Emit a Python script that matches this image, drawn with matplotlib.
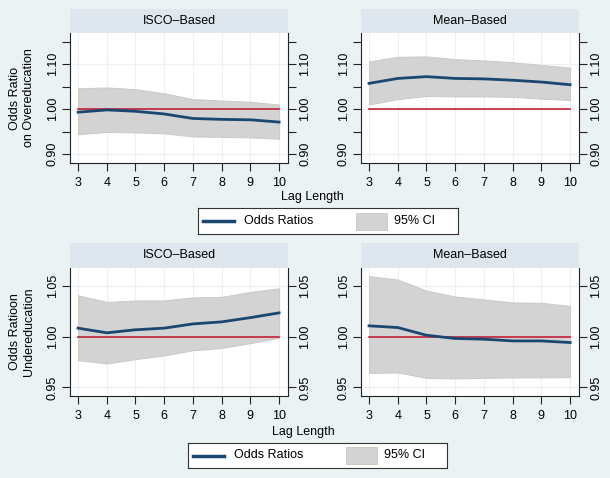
import numpy as np
import matplotlib
matplotlib.use('Agg')
import matplotlib.pyplot as plt
from matplotlib.lines import Line2D
from matplotlib.patches import Rectangle

plt.rcParams['font.family'] = ['Liberation Sans', 'DejaVu Sans']
plt.rcParams['font.size'] = 9

FIG_W, FIG_H = 610, 478
BG = '#EAF2F3'
STRIP = '#DEE7ED'
NAVY = '#1A476F'
RED = '#C41E3A'
CI_FILL = '#D3D3D3'

lags = [3, 4, 5, 6, 7, 8, 9, 10]

# overeducation
over_isco = [0.993, 0.998, 0.995, 0.989, 0.979, 0.977, 0.976, 0.971]
over_isco_hi = [1.046, 1.048, 1.044, 1.035, 1.022, 1.019, 1.016, 1.010]
over_isco_lo = [0.944, 0.949, 0.948, 0.946, 0.939, 0.938, 0.937, 0.934]

over_mean = [1.057, 1.068, 1.072, 1.068, 1.067, 1.064, 1.060, 1.054]
over_mean_hi = [1.106, 1.116, 1.117, 1.111, 1.108, 1.104, 1.098, 1.092]
over_mean_lo = [1.010, 1.022, 1.029, 1.028, 1.028, 1.027, 1.023, 1.020]

# undereducation
under_isco = [1.0086, 1.0040, 1.0070, 1.0086, 1.0128, 1.0148, 1.0190, 1.0237]
under_isco_hi = [1.0410, 1.0345, 1.0360, 1.0360, 1.0390, 1.0395, 1.0444, 1.0480]
under_isco_lo = [0.9770, 0.9737, 0.9780, 0.9816, 0.9868, 0.9890, 0.9938, 0.9990]

under_mean = [1.0109, 1.0092, 1.0016, 0.9984, 0.9977, 0.9960, 0.9960, 0.9944]
under_mean_hi = [1.0600, 1.0566, 1.0457, 1.0398, 1.0370, 1.0340, 1.0336, 1.0306]
under_mean_lo = [0.9645, 0.9648, 0.9595, 0.9589, 0.9595, 0.9599, 0.9600, 0.9602]

panel_titles = ['ISCO\u2013Based', 'Mean\u2013Based']


def px_rect(x0, y0, x1, y1):
    ''' pixel box (top-left origin) -> figure fraction rect '''
    return [x0 / FIG_W, 1 - y1 / FIG_H, (x1 - x0) / FIG_W, (y1 - y0) / FIG_H]


def draw_panel(fig, box, strip_top, title, y, hi, lo, ylim, yticks, ylabels, yminor):
    x0, y0, x1, y1 = box
    ax = fig.add_axes(px_rect(x0, y0, x1, y1))
    ax.set_facecolor('white')
    ax.fill_between(lags, lo, hi, facecolor=CI_FILL, edgecolor='#CDC9C3', lw=0.7, zorder=2)
    ax.plot([lags[0], lags[-1]], [1, 1], color=RED, lw=1.2, zorder=3)
    ax.plot(lags, y, color=NAVY, lw=2, zorder=4)

    ax.set_xlim(2.72, 10.31)
    ax.set_ylim(*ylim)
    ax.set_xticks(lags)
    ax.set_yticks(yticks)
    ax.set_yticklabels(ylabels)
    ax.set_yticks(yminor, minor=True)
    for v in lags:
        ax.axvline(v, color='#EAF0F3', lw=0.8, zorder=1)
    for v in yticks:
        ax.axhline(v, color='#EAF0F3', lw=0.8, zorder=1)

    ax.tick_params(axis='both', which='both', direction='out', length=6, width=0.8,
                   colors='#222222', labelcolor='black', pad=4)
    ax.tick_params(axis='y', which='both', right=True, labelright=True, labelrotation=90, pad=2)
    for t in ax.yaxis.get_major_ticks():
        t.label1.set_va('center')
        t.label2.set_va('center')
    ax.spines['top'].set_visible(False)
    for s in ['left', 'right', 'bottom']:
        ax.spines[s].set_color('#222222')
        ax.spines[s].set_linewidth(0.8)

    sax = fig.add_axes(px_rect(x0, strip_top, x1, y0))
    sax.set_facecolor(STRIP)
    sax.set_xticks([])
    sax.set_yticks([])
    for s in sax.spines.values():
        s.set_visible(False)
    sax.text(0.5, 0.5, title, ha='center', va='center', transform=sax.transAxes)
    return ax


def draw_legend(fig, box):
    x0, y0, x1, y1 = box
    lax = fig.add_axes(px_rect(x0, y0, x1, y1))
    lax.set_xlim(0, x1 - x0)
    lax.set_ylim(y1 - y0, 0)
    lax.set_facecolor('white')
    lax.set_xticks([])
    lax.set_yticks([])
    for s in lax.spines.values():
        s.set_color('#333333')
        s.set_linewidth(0.8)
    mid = (y1 - y0) / 2
    lax.add_line(Line2D([5, 36], [mid, mid], color=NAVY, lw=2.5))
    lax.text(46, mid, 'Odds Ratios', va='center', ha='left')
    lax.add_patch(Rectangle((158, mid - 8.5), 31, 17, facecolor=CI_FILL, edgecolor='#CDC9C3', lw=0.7))
    lax.text(196, mid, '95% CI', va='center', ha='left')


def main():
    fig = plt.figure(figsize=(FIG_W / 100, FIG_H / 100), dpi=100)
    fig.patch.set_facecolor(BG)

    top_ylim = (0.88, 1.169)
    top_ticks = [0.90, 1.00, 1.10]
    top_labels = ['0.90', '1.00', '1.10']
    top_minor = [0.95, 1.05, 1.15]
    draw_panel(fig, (70, 33, 288, 163), 9, panel_titles[0], over_isco, over_isco_hi, over_isco_lo,
               top_ylim, top_ticks, top_labels, top_minor)
    draw_panel(fig, (361, 33, 579, 163), 9, panel_titles[1], over_mean, over_mean_hi, over_mean_lo,
               top_ylim, top_ticks, top_labels, top_minor)

    bot_ylim = (0.9416, 1.068)
    bot_ticks = [0.95, 1.00, 1.05]
    bot_labels = ['0.95', '1.00', '1.05']
    draw_panel(fig, (70, 268, 288, 396), 243, panel_titles[0], under_isco, under_isco_hi, under_isco_lo,
               bot_ylim, bot_ticks, bot_labels, [])
    draw_panel(fig, (361, 268, 579, 396), 243, panel_titles[1], under_mean, under_mean_hi, under_mean_lo,
               bot_ylim, bot_ticks, bot_labels, [])

    fig.text(22 / FIG_W, 1 - 98 / FIG_H, 'Odds Ratio\non Overeducation', rotation=90,
             ha='center', va='center', linespacing=1.3)
    fig.text(22 / FIG_W, 1 - 332 / FIG_H, 'Odds Ratioon\nUndereducation', rotation=90,
             ha='center', va='center', linespacing=1.3)

    fig.text(312 / FIG_W, 1 - 197 / FIG_H, 'Lag Length', ha='center', va='center')
    fig.text(303 / FIG_W, 1 - 432 / FIG_H, 'Lag Length', ha='center', va='center')

    draw_legend(fig, (198, 208, 458, 234))
    draw_legend(fig, (188, 443, 447, 468))

    fig.savefig('out.png', dpi=100, facecolor=BG)


if __name__ == "__main__":
    main()
